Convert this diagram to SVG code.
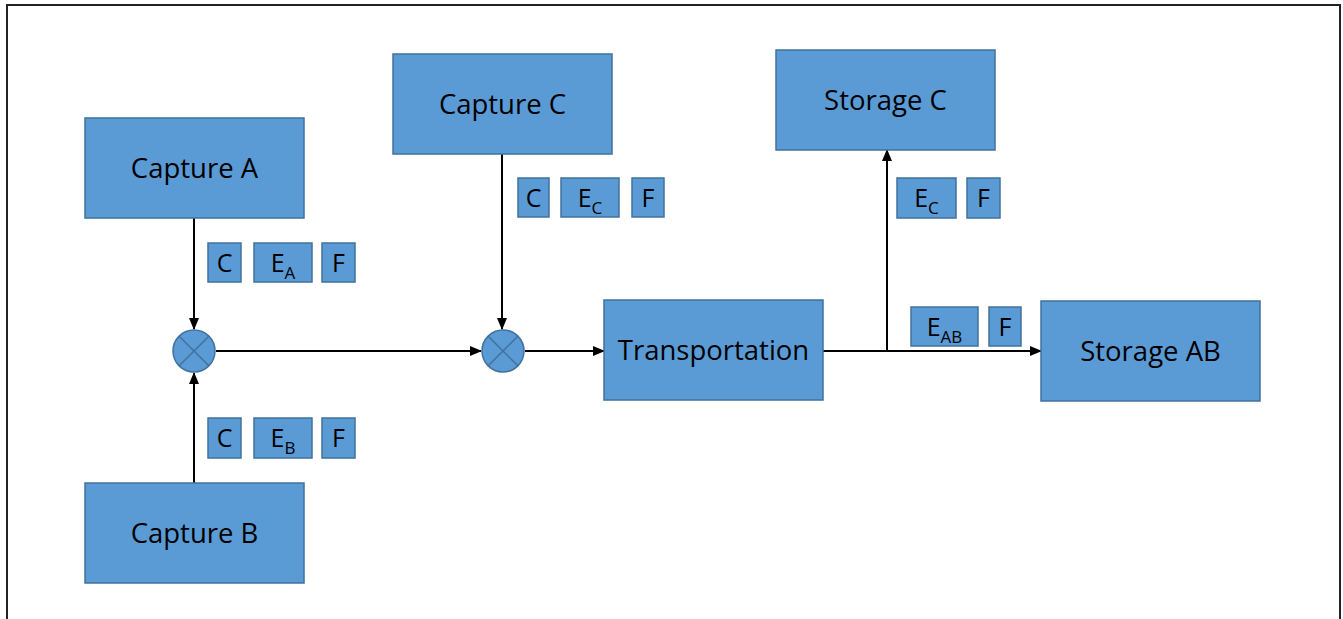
<svg xmlns="http://www.w3.org/2000/svg" width="1343" height="619" viewBox="0 0 1343 619">
<style>
.box{fill:#5B9BD5;stroke:#41719C;stroke-width:1.5}
.lbl{font-family:"Open Sans","Liberation Sans",sans-serif;font-size:27.5px;fill:#000;text-anchor:middle}
.sm{font-family:"Open Sans","Liberation Sans",sans-serif;font-size:25px;fill:#000;text-anchor:middle}
.sub{font-size:17px}
.ln{stroke:#000;stroke-width:2;fill:none}
.x{stroke:#41719C;stroke-width:1.5}
</style>
<defs>
<marker id="arr" markerUnits="userSpaceOnUse" markerWidth="12" markerHeight="10" refX="11" refY="5" orient="auto">
<path d="M0,0 L12,5 L0,10 Z" fill="#000"/>
</marker>
</defs>
<rect x="0" y="0" width="1343" height="619" fill="#fff"/>
<rect x="7" y="5" width="1333" height="630" fill="none" stroke="#222" stroke-width="2"/>

<g id="connectors">
<line class="ln" x1="194" y1="218" x2="194" y2="329" marker-end="url(#arr)"/>
<line class="ln" x1="194" y1="483" x2="194" y2="373" marker-end="url(#arr)"/>
<line class="ln" x1="502" y1="154" x2="502" y2="329" marker-end="url(#arr)"/>
<line class="ln" x1="216" y1="351" x2="481" y2="351" marker-end="url(#arr)"/>
<line class="ln" x1="525" y1="351" x2="604" y2="351" marker-end="url(#arr)"/>
<line class="ln" x1="823" y1="351" x2="1041" y2="351" marker-end="url(#arr)"/>
<line class="ln" x1="887" y1="351" x2="887" y2="150" marker-end="url(#arr)"/>
</g>

<g id="captureA"><rect class="box" x="85" y="118" width="219" height="100"/><text class="lbl" x="194.5" y="178">Capture A</text></g>
<g id="captureB"><rect class="box" x="85" y="483" width="219" height="100"/><text class="lbl" x="194.5" y="543">Capture B</text></g>
<g id="captureC"><rect class="box" x="393" y="54" width="219" height="100"/><text class="lbl" x="502.5" y="114">Capture C</text></g>
<g id="storageC"><rect class="box" x="776" y="50" width="219" height="100"/><text class="lbl" x="885.5" y="110">Storage C</text></g>
<g id="transportation"><rect class="box" x="604" y="300" width="219" height="100"/><text class="lbl" x="713.5" y="360">Transportation</text></g>
<g id="storageAB"><rect class="box" x="1041" y="301" width="219" height="100"/><text class="lbl" x="1150.5" y="361">Storage AB</text></g>

<g id="mix1"><circle cx="194" cy="351" r="21" class="box"/><line class="x" x1="179.2" y1="336.2" x2="208.8" y2="365.8"/><line class="x" x1="208.8" y1="336.2" x2="179.2" y2="365.8"/></g>
<g id="mix2"><circle cx="503" cy="351" r="21" class="box"/><line class="x" x1="488.2" y1="336.2" x2="517.8" y2="365.8"/><line class="x" x1="517.8" y1="336.2" x2="488.2" y2="365.8"/></g>

<g id="tagsA">
<rect class="box" x="208" y="243" width="33" height="39"/><text class="sm" x="224.5" y="272">C</text>
<rect class="box" x="254" y="243" width="58" height="39"/><text class="sm" x="283" y="272">E<tspan class="sub" dy="7">A</tspan></text>
<rect class="box" x="322" y="243" width="33" height="39"/><text class="sm" x="338.5" y="272">F</text>
</g>
<g id="tagsB">
<rect class="box" x="208" y="418" width="33" height="40"/><text class="sm" x="224.5" y="447">C</text>
<rect class="box" x="254" y="418" width="58" height="40"/><text class="sm" x="283" y="447">E<tspan class="sub" dy="7">B</tspan></text>
<rect class="box" x="322" y="418" width="33" height="40"/><text class="sm" x="338.5" y="447">F</text>
</g>
<g id="tagsC">
<rect class="box" x="518" y="178" width="31" height="39"/><text class="sm" x="533.5" y="207">C</text>
<rect class="box" x="561" y="178" width="58" height="39"/><text class="sm" x="590" y="207">E<tspan class="sub" dy="7">C</tspan></text>
<rect class="box" x="632" y="178" width="32" height="39"/><text class="sm" x="648" y="207">F</text>
</g>
<g id="tagsStorageC">
<rect class="box" x="897" y="178" width="59" height="40"/><text class="sm" x="926.5" y="207">E<tspan class="sub" dy="7">C</tspan></text>
<rect class="box" x="967" y="178" width="33" height="40"/><text class="sm" x="983.5" y="207">F</text>
</g>
<g id="tagsStorageAB">
<rect class="box" x="911" y="307" width="67" height="39"/><text class="sm" x="944.5" y="336">E<tspan class="sub" dy="7">AB</tspan></text>
<rect class="box" x="989" y="307" width="32" height="39"/><text class="sm" x="1005" y="336">F</text>
</g>
</svg>
